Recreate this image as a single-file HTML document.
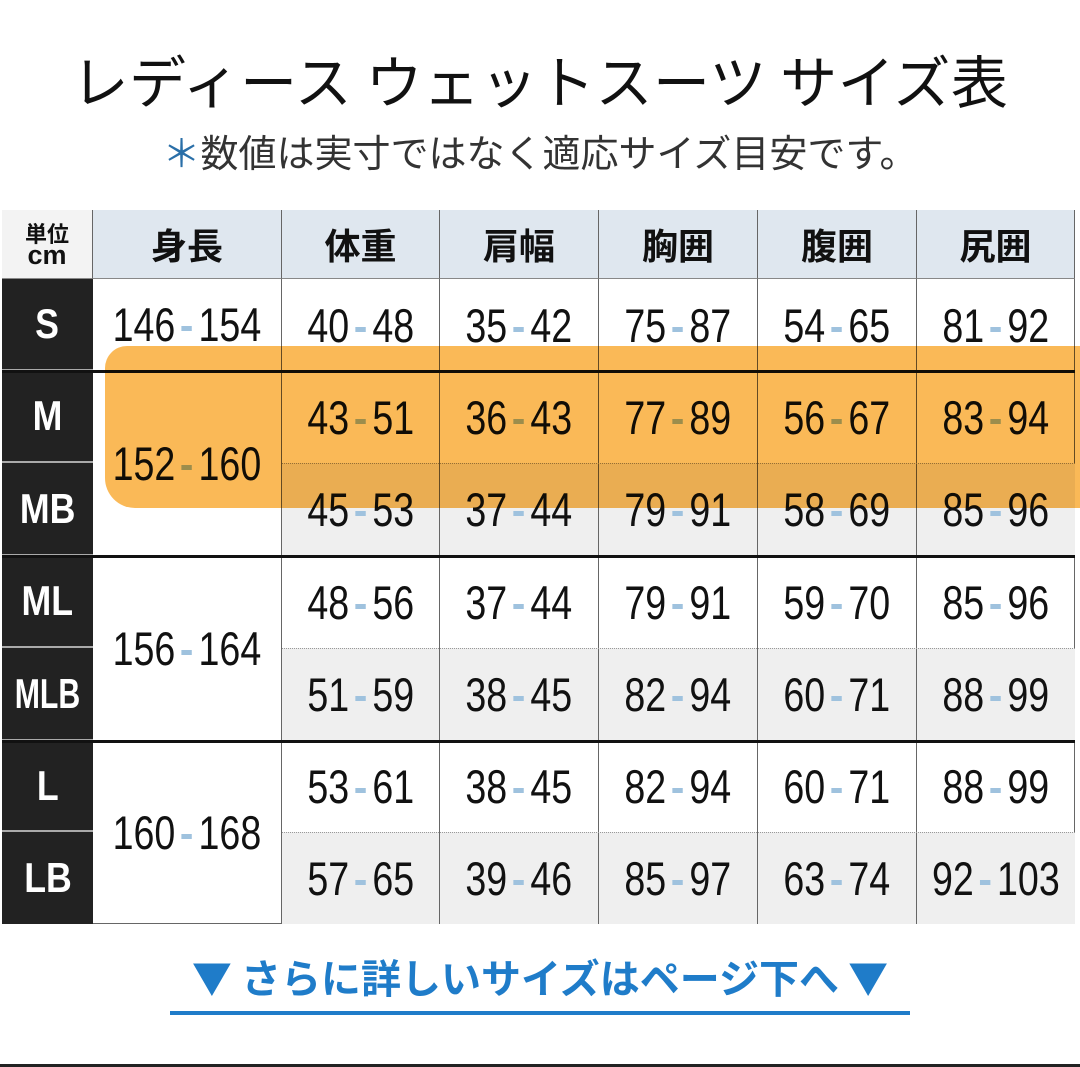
<!DOCTYPE html>
<html><head><meta charset="utf-8"><style>
*{margin:0;padding:0;box-sizing:border-box}
body{width:1080px;height:1067px;background:#fff;position:relative;overflow:hidden;font-family:"Liberation Sans","Noto Sans CJK JP",sans-serif}
.a{position:absolute}
.t{left:0;width:1080px;text-align:center;top:38px;font-size:57px;color:#111;font-family:"Noto Sans CJK JP",sans-serif;font-weight:400;letter-spacing:0.5px}
.s{left:0;width:1080px;text-align:center;top:123px;font-size:38px;color:#333;font-family:"Noto Sans CJK JP",sans-serif}
.c{position:absolute;display:flex;align-items:center;justify-content:center;border-right:1.5px solid #666;border-bottom:1px solid #888;white-space:nowrap}
.h{background:#dfe7ef;font-family:"Noto Sans CJK JP",sans-serif;font-weight:700;font-size:36px;color:#111}
.l{background:#222;color:#fff;font-weight:700;font-size:42px;border-bottom:2px solid #aaa;border-right:none}
.l b{display:inline-block;transform:scaleX(0.85)}
.n{font-family:"Liberation Sans",sans-serif;font-size:47px;color:#111}
.n b{display:inline-block;transform:scaleX(0.8);font-weight:400}
.g{background:#efefef}
.d{display:inline-block;width:13px;height:5px;background:#9fc2de;margin:0 8px;vertical-align:middle}
.tk{position:absolute;left:2px;width:1073px;height:3px;background:#111}
.dot{position:absolute;border-top:1.5px dotted #999}
</style></head><body>
<div class="a t">レディース ウェットスーツ サイズ表</div>
<div class="a s"><span style="color:#2a6fa8">＊</span>数値は実寸ではなく適応サイズ目安です。</div>

<div class="a" style="left:2px;top:210px;width:1073px;height:714px;border:1.5px solid #666"></div>
<div class="c h" style="left:2px;top:210px;width:91px;height:69px;font-size:22px;line-height:22px;flex-direction:column;background:#f3f3f3">単位<span style="font-size:27px;font-family:'Liberation Sans';font-weight:700">cm</span></div>
<div class="c h" style="left:93px;top:210px;width:189px;height:69px">身長</div>
<div class="c h" style="left:282px;top:210px;width:158px;height:69px">体重</div>
<div class="c h" style="left:440px;top:210px;width:159px;height:69px">肩幅</div>
<div class="c h" style="left:599px;top:210px;width:159px;height:69px">胸囲</div>
<div class="c h" style="left:758px;top:210px;width:159px;height:69px">腹囲</div>
<div class="c h" style="left:917px;top:210px;width:158px;height:69px">尻囲</div>

<div class="c l" style="left:2px;top:279px;width:91px;height:92px"><b>S</b></div>
<div class="c l" style="left:2px;top:371px;width:91px;height:92px"><b>M</b></div>
<div class="c l" style="left:2px;top:463px;width:91px;height:93px"><b>MB</b></div>
<div class="c l" style="left:2px;top:556px;width:91px;height:92px"><b>ML</b></div>
<div class="c l" style="left:2px;top:648px;width:91px;height:93px"><b style="transform:scaleX(0.72)">MLB</b></div>
<div class="c l" style="left:2px;top:741px;width:91px;height:91px"><b>L</b></div>
<div class="c l" style="left:2px;top:832px;width:91px;height:92px;border-bottom:none"><b>LB</b></div>

<div class="c n" style="left:93px;top:279px;width:189px;height:92px"><b>146<i class="d"></i>154</b></div>
<div class="c n" style="left:93px;top:371px;width:189px;height:185px"><b>152<i class="d"></i>160</b></div>
<div class="c n" style="left:93px;top:556px;width:189px;height:185px"><b>156<i class="d"></i>164</b></div>
<div class="c n" style="left:93px;top:741px;width:189px;height:183px;border-bottom:none"><b>160<i class="d"></i>168</b></div>

<div id="rows"></div>
<script>
var X=[282,440,599,758,917,1075];
var R=[[279,92,0,["40-48","35-42","75-87","54-65","81-92"]],
[371,92,0,["43-51","36-43","77-89","56-67","83-94"]],
[463,93,1,["45-53","37-44","79-91","58-69","85-96"]],
[556,92,0,["48-56","37-44","79-91","59-70","85-96"]],
[648,93,1,["51-59","38-45","82-94","60-71","88-99"]],
[741,91,0,["53-61","38-45","82-94","60-71","88-99"]],
[832,92,1,["57-65","39-46","85-97","63-74","92-103"]]];
var h="";
R.forEach(function(r){for(var i=0;i<5;i++){var p=r[3][i].split("-");
h+='<div class="c n'+(r[2]?' g':'')+'" style="left:'+X[i]+'px;top:'+r[0]+'px;width:'+(X[i+1]-X[i])+'px;height:'+r[1]+'px;border-bottom:none'+(i==4?';border-right:none':'')+'"><b>'+p[0]+'<i class="d"></i>'+p[1]+'</b></div>';}});
document.getElementById("rows").innerHTML=h;
</script>
<div class="dot" style="left:282px;top:463px;width:793px"></div>
<div class="dot" style="left:282px;top:648px;width:793px"></div>
<div class="dot" style="left:282px;top:832px;width:793px"></div>
<div class="tk" style="top:370px"></div>
<div class="tk" style="top:555px"></div>
<div class="tk" style="top:740px"></div>

<div class="a" style="left:105px;top:346px;width:975px;height:162px;background:rgba(249,168,45,0.8);mix-blend-mode:multiply;border-radius:22px 0 0 30px"></div>

<div class="a" style="left:0;width:1080px;top:947px;text-align:center;font-family:'Noto Sans CJK JP',sans-serif;font-weight:700;font-size:40px;color:#1f7cc9">▼ さらに詳しいサイズはページ下へ ▼</div>
<div class="a" style="left:170px;top:1011px;width:740px;height:4px;background:#1f7cc9"></div>
<div class="a" style="left:0;top:1064px;width:1080px;height:3px;background:#222"></div>
</body></html>
